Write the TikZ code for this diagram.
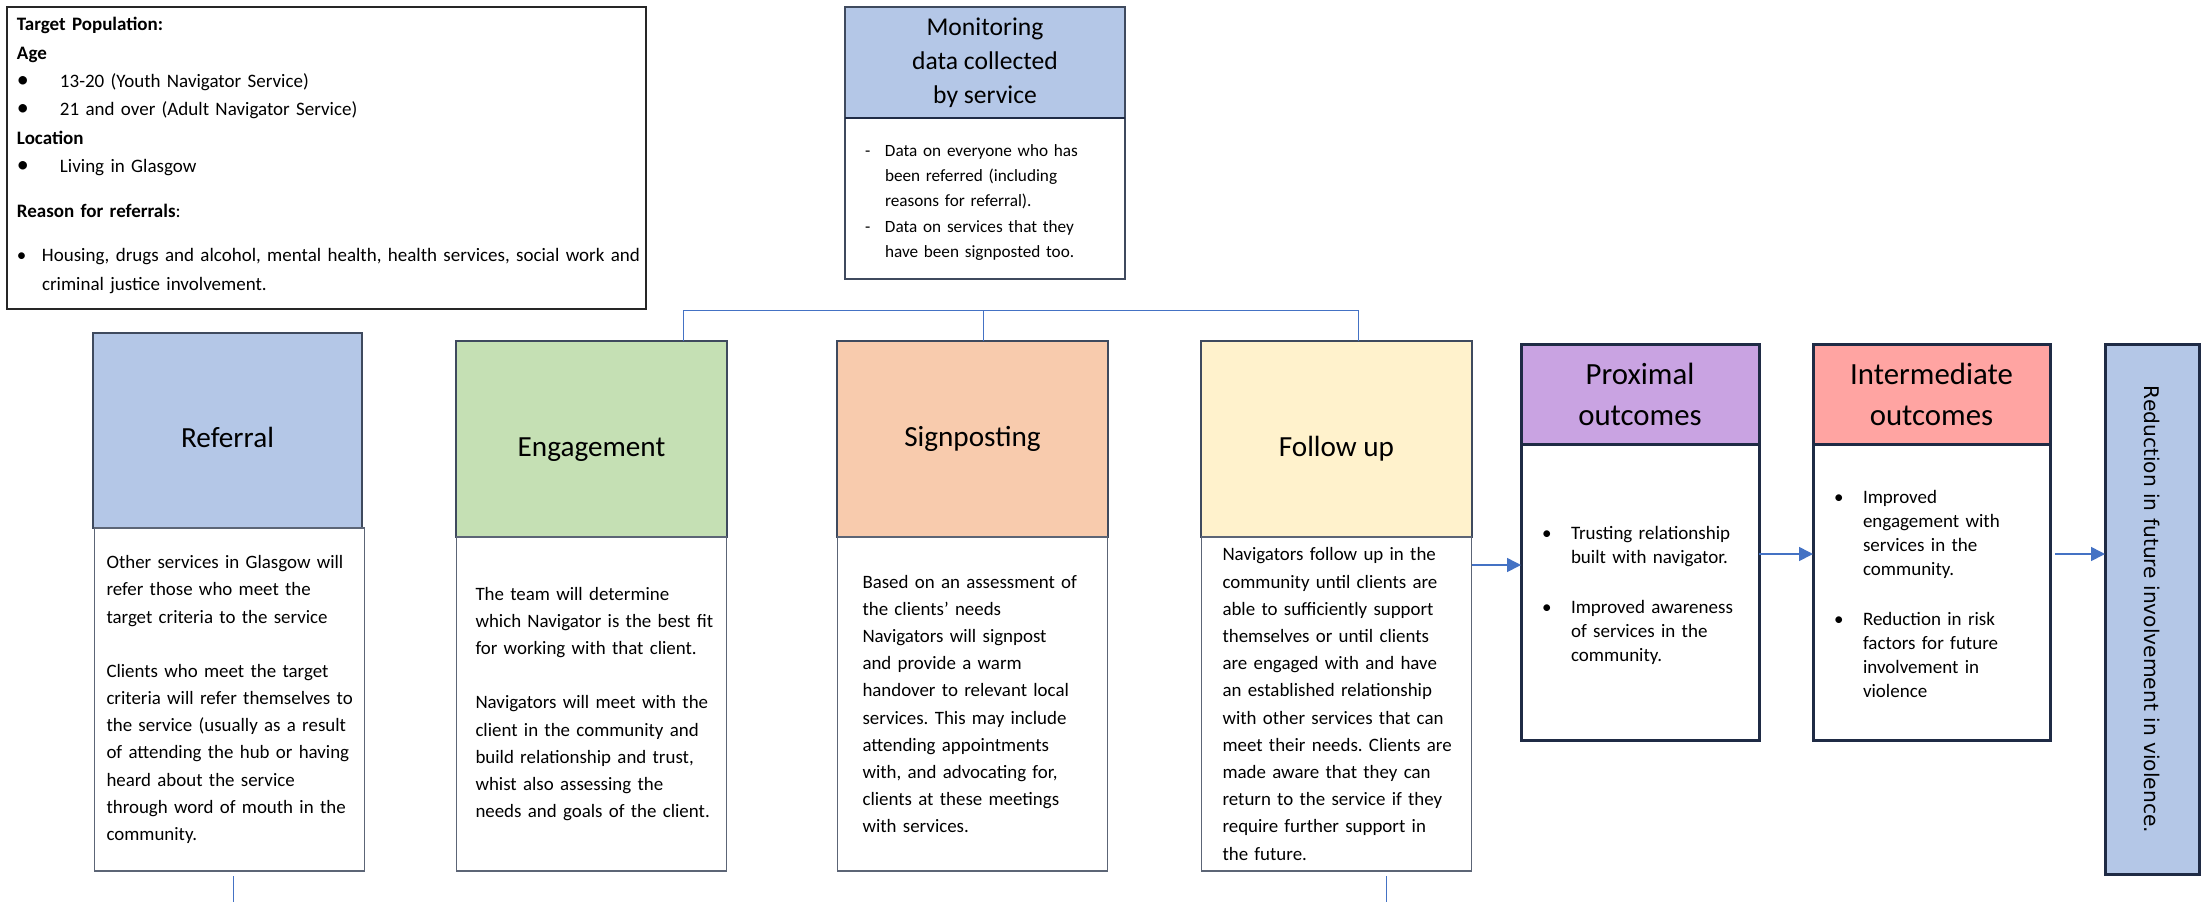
\documentclass[tikz,border=0pt]{standalone}
\usepackage{fontspec}
\setmainfont{Carlito}
\newfontfamily\reductfont{DejaVu Sans}
\usepackage{graphicx}
\usetikzlibrary{positioning, arrows.meta}

\definecolor{refblue}{HTML}{B4C7E7}
\definecolor{enggreen}{HTML}{C5E0B4}
\definecolor{sigpeach}{HTML}{F8CBAD}
\definecolor{folcream}{HTML}{FFF2CC}
\definecolor{proxlilac}{HTML}{C9A3E2}
\definecolor{intsalmon}{HTML}{FFA4A2}
\definecolor{edgegrey}{HTML}{3F4A5E}
\definecolor{edgenavy}{HTML}{1F2B45}
\definecolor{linkblue}{HTML}{4472C4}

% one bulleted row, lines split with \\
\newcommand\listrow[3]{\par\noindent\makebox[#1][l]{#2}\begin{tabular}[t]{@{}l@{}}#3\end{tabular}\par}
% title pushed down inside its box
\newcommand\dropby[2]{\raisebox{-#1}[\height][\depth]{#2}}

\begin{document}
\begin{tikzpicture}[x=0.5pt,y=-0.5pt,
    every node/.style={inner sep=0pt,outer sep=0pt},
    stagehead/.style={draw=edgegrey,line width=0.7pt,anchor=north west,
        align=center,minimum width=135.5pt,minimum height=98pt,
        font=\fontsize{14.6}{17}\selectfont},
    stagebody/.style={draw=edgegrey!85,line width=0.6pt,fill=white,anchor=north,
        align=left,text width=135pt,minimum height=167pt,
        font=\fontsize{9.45}{13.6}\selectfont\frenchspacing},
    outhead/.style={draw=edgenavy,line width=1.5pt,anchor=north west,
        align=center,minimum width=119pt,minimum height=50pt,
        font=\fontsize{15.4}{20.5}\selectfont},
    outbody/.style={draw=edgenavy,line width=1.5pt,anchor=north,
        align=left,text width=119pt,minimum height=148pt,
        font=\fontsize{9.5}{12}\selectfont},
    bus/.style={draw=linkblue,line width=0.5pt},
    flow/.style={draw=linkblue,line width=0.8pt,-{Triangle[length=7pt,width=7pt]}}]

\useasboundingbox[fill=white] (0,0) rectangle (2202,902);

%target population
\node[draw=black!85,line width=0.8pt,anchor=north west,align=left,
    text width=319.5pt,minimum height=151pt,
    font=\fontsize{9.5}{14.2}\selectfont] (pop) at (7,7) {\leftskip=5pt
    \textbf{Target Population:}\par
    \textbf{Age}\par
    \listrow{21.5pt}{\fontsize{12}{12}\selectfont\textbullet}{13-20 (Youth Navigator Service)}
    \listrow{21.5pt}{\fontsize{12}{12}\selectfont\textbullet}{21 and over (Adult Navigator Service)}
    \textbf{Location}\par
    \listrow{21.5pt}{\fontsize{12}{12}\selectfont\textbullet}{Living in Glasgow}
    \vspace{8.3pt}
    \textbf{Reason for referrals}:\par
    \vspace{7.8pt}
    \listrow{12.5pt}{\textbullet}{Housing, drugs and alcohol, mental health, health services, social work and\\ criminal justice involvement.}};

%monitoring
\node[draw=edgegrey,line width=0.7pt,fill=refblue,anchor=north west,align=center,
    minimum width=140pt,minimum height=55.5pt,
    font=\fontsize{12.8}{17}\selectfont] (mon) at (845,7)
    {Monitoring\\data collected\\by service};
\node[draw=edgegrey,line width=0.7pt,anchor=north,align=left,
    text width=140pt,minimum height=80.5pt,
    font=\fontsize{8.6}{12.3}\selectfont] (monbody) at (mon.south) {\leftskip=10pt
    \listrow{10pt}{-}{Data on everyone who has\\ been referred (including\\ reasons for referral).}
    \listrow{10pt}{-}{Data on services that they\\ have been signposted too.}\vspace{5pt}};
\draw[edgenavy,line width=1.4pt] (mon.south west) -- (mon.south east);

%stages
\node[stagehead,fill=refblue,minimum width=134.5pt,minimum height=97.5pt] (ref) at (93,333) {\dropby{3.5pt}{Referral}};
\node[stagebody,minimum height=171.5pt] (refbody) at ([xshift=1pt]ref.south) {\leftskip=6pt
    Other services in Glasgow will\\ refer those who meet the\\ target criteria to the service\\[13.5pt]
    Clients who meet the target\\ criteria will refer themselves to\\ the service (usually as a result\\
    of attending the hub or having\\ heard about the service\\ through word of mouth in the\\ community.\par};

\node[stagehead,fill=enggreen] (eng) at (456,341) {\dropby{5.5pt}{Engagement}};
\node[stagebody] (engbody) at (eng.south) {\leftskip=9.5pt
    The team will determine\\ which Navigator is the best fit\\ for working with that client.\\[13.5pt]
    Navigators will meet with the\\ client in the community and\\ build relationship and trust,\\
    whist also assessing the\\ needs and goals of the client.\par\vspace{12pt}};

\node[stagehead,fill=sigpeach] (sig) at (837,341) {Signposting};
\node[stagebody] (sigbody) at (sig.south) {\leftskip=12.5pt
    Based on an assessment of\\ the clients' needs\\ Navigators will signpost\\ and provide a warm\\
    handover to relevant local\\ services. This may include\\ attending appointments\\
    with, and advocating for,\\ clients at these meetings\\ with services.\par\vspace{14pt}};

\node[stagehead,fill=folcream] (fol) at (1201,341) {\dropby{5pt}{Follow up}};
\node[stagebody] (folbody) at (fol.south) {\leftskip=10.5pt
    Navigators follow up in the\\ community until clients are\\ able to sufficiently support\\
    themselves or until clients\\ are engaged with and have\\ an established relationship\\
    with other services that can\\ meet their needs. Clients are\\ made aware that they can\\
    return to the service if they\\ require further support in\\ the future.\par};

%monitoring links
\coordinate (busL) at (683,310);
\coordinate (busM) at (983,310);
\coordinate (busR) at (1358,310);
\draw[bus] (busL |- eng.north) -- (busL) -- (busR) -- (busR |- fol.north);
\draw[bus] (busM) -- (busM |- sig.north);

\coordinate (tailL) at (233,902);
\coordinate (tailR) at (1386,902);
\draw[bus] ([yshift=-2.5pt]tailL |- refbody.south) -- (tailL);
\draw[bus] ([yshift=-2.5pt]tailR |- folbody.south) -- (tailR);

%outcomes
\node[outhead,fill=proxlilac] (prox) at (1521,344.5) {Proximal\\outcomes};
\node[outbody] (proxbody) at (prox.south) {\leftskip=10.5pt
    \listrow{14.5pt}{\textbullet}{Trusting relationship\\ built with navigator.}
    \vspace{12pt}
    \listrow{14.5pt}{\textbullet}{Improved awareness\\ of services in the\\ community.}};

\node[outhead,fill=intsalmon,minimum width=118.5pt] (inter) at (1813,344.5) {Intermediate\\outcomes};
\node[outbody,text width=118.5pt] (interbody) at (inter.south) {\leftskip=10.5pt
    \listrow{14.5pt}{\textbullet}{Improved\\ engagement with\\ services in the\\ community.}
    \vspace{12pt}
    \listrow{14.5pt}{\textbullet}{Reduction in risk\\ factors for future\\ involvement in\\ violence}};

\node[draw=edgenavy,line width=1.5pt,fill=refblue,anchor=north west,
    minimum width=47pt,minimum height=265pt] (reduce) at (2105,344.5)
    {\rotatebox{-90}{\reductfont\fontsize{10.1}{12}\selectfont Reduction in future involvement in violence.}};

%arrows
\coordinate (lvlA) at (0,565);
\coordinate (lvlB) at (0,554);
\draw[flow] (folbody.east |- lvlA) -- (proxbody.west |- lvlA);
\draw[flow] (proxbody.east |- lvlB) -- (interbody.west |- lvlB);
\draw[flow] ([xshift=2.5pt]interbody.east |- lvlB) -- (reduce.west |- lvlB);

\end{tikzpicture}
\end{document}
